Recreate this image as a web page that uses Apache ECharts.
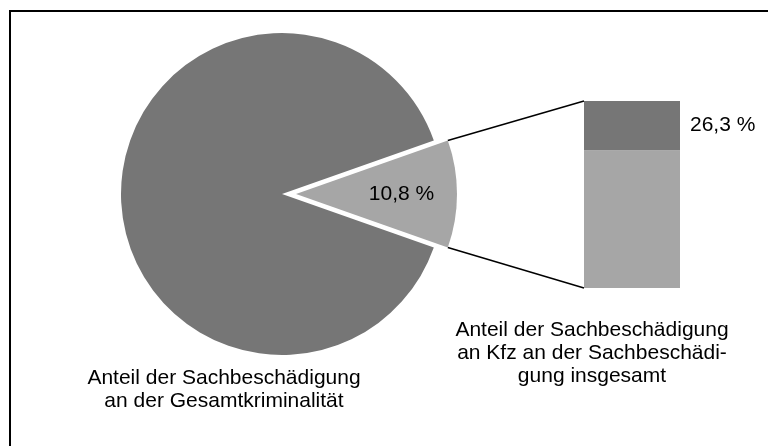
<!DOCTYPE html>
<html>
<head>
<meta charset="utf-8">
<style>
  html, body { margin: 0; padding: 0; background: #fff; }
  #chart { width: 768px; height: 446px; }
</style>
<script src="https://cdn.jsdelivr.net/npm/echarts@6/dist/echarts.min.js"></script>
</head>
<body>
<div id="chart"></div>
<script>
// Shares in percent
const pieCategories = ['Sachbeschädigung', 'übrige Straftaten'];
const pieValues = [10.8, 89.2];
const barCategories = ['übrige Sachbeschädigung', 'Sachbeschädigung an Kfz'];
const barValues = [73.7, 26.3];
const pieCaption = ['Anteil der Sachbeschädigung', 'an der Gesamtkriminalität'];
const barCaption = ['Anteil der Sachbeschädigung', 'an Kfz an der Sachbeschädi-', 'gung insgesamt'];

const DARK = '#767676';
const LIGHT = '#a6a6a6';
const FONT = '"Liberation Sans", Arial, sans-serif';
const FONT_SIZE = 21;
const PIE_CENTER = [282, 194];
const PIE_R = 161;
const EXPLODE = 14;

const fmt = v => v.toFixed(1).replace('.', ',') + ' %';

const chart = echarts.init(document.getElementById('chart'), null, { renderer: 'canvas' });

const option = {
  animation: false,
  backgroundColor: '#fff',
  grid: { left: 584, top: 101, width: 96, height: 187, containLabel: false },
  xAxis: { type: 'category', data: ['Sachbeschädigung'], show: false },
  yAxis: { type: 'value', min: 0, max: 100, show: false },
  series: [
    {
      type: 'pie',
      center: PIE_CENTER,
      radius: [0, PIE_R],
      startAngle: pieValues[0] / 100 * 180,
      clockwise: true,
      selectedMode: 'single',
      selectedOffset: EXPLODE,
      emphasis: { disabled: true },
      silent: true,
      labelLine: { show: false },
      data: [
        {
          name: pieCategories[0], value: pieValues[0], selected: true,
          itemStyle: { color: LIGHT },
          label: {
            show: true, position: 'inside',
            // pushes the text toward the outer part of the slice
            padding: [8, 0, 0, 44],
            formatter: p => fmt(p.value),
            color: '#000', fontFamily: FONT, fontSize: FONT_SIZE
          }
        },
        {
          name: pieCategories[1], value: pieValues[1],
          itemStyle: { color: DARK },
          label: { show: false }
        }
      ]
    },
    {
      type: 'bar', name: barCategories[0], stack: 'total',
      barWidth: '100%', silent: true,
      itemStyle: { color: LIGHT },
      data: [barValues[0]]
    },
    {
      type: 'bar', name: barCategories[1], stack: 'total',
      barWidth: '100%', silent: true,
      itemStyle: { color: DARK },
      label: {
        show: true, position: 'right', distance: 10,
        formatter: p => fmt(p.value),
        color: '#000', fontFamily: FONT, fontSize: FONT_SIZE
      },
      data: [barValues[1]]
    }
  ]
};
chart.setOption(option);

// Connector lines from the exploded slice corners to the bar corners
const rect = chart.getModel().getComponent('grid', 0).coordinateSystem.getRect();
const barTop = chart.convertToPixel({ gridIndex: 0 }, [0, 100])[1];
const barBottom = chart.convertToPixel({ gridIndex: 0 }, [0, 0])[1];
const half = pieValues[0] / 100 * Math.PI;
const cx = PIE_CENTER[0] + EXPLODE;
const cy = PIE_CENTER[1];
const upper = [cx + PIE_R * Math.cos(half), cy - PIE_R * Math.sin(half)];
const lower = [cx + PIE_R * Math.cos(half), cy + PIE_R * Math.sin(half)];

const textStyle = (lines, x, y) => ({
  type: 'text', x: x, y: y, silent: true,
  style: {
    text: lines.join('\n'), fill: '#000', font: FONT_SIZE + 'px ' + FONT,
    align: 'center', verticalAlign: 'top', lineHeight: 23
  }
});

chart.setOption({
  graphic: [
    {
      type: 'rect', silent: true,
      shape: { x: 10, y: 11, width: 820, height: 500 },
      style: { fill: 'none', stroke: '#000', lineWidth: 2 }
    },
    {
      type: 'line', silent: true,
      shape: { x1: upper[0], y1: upper[1], x2: rect.x, y2: barTop },
      style: { stroke: '#000', lineWidth: 1.5 }
    },
    {
      type: 'line', silent: true,
      shape: { x1: lower[0], y1: lower[1], x2: rect.x, y2: barBottom },
      style: { stroke: '#000', lineWidth: 1.5 }
    },
    textStyle(pieCaption, 224, 367),
    textStyle(barCaption, 592, 319)
  ]
});
</script>
</body>
</html>
